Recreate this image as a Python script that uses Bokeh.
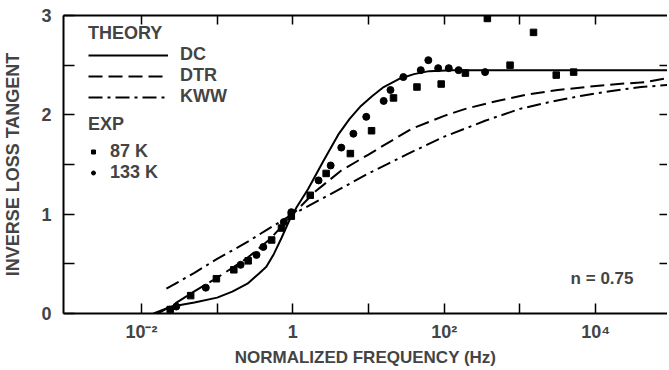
import numpy as np
from bokeh.plotting import figure
from bokeh.models import (LogAxis, LinearAxis, FixedTicker, Legend, LegendItem,
                          Label, Range1d)
from bokeh.embed import file_html
from bokeh.resources import INLINE

FONT = "Liberation Sans"

# ---- data (frequencies given as log10 exponents) ----
dc_logf = [-1.84, -1.6, -1.3, -1.0, -0.8, -0.6, -0.45, -0.35, -0.25, -0.15, -0.05,
           0.05, 0.2, 0.4, 0.6, 0.75, 0.9, 1.05, 1.2, 1.4, 1.6, 1.8, 2.1, 3.0, 4.0, 4.95]
dc_val = [0.0, 0.07, 0.11, 0.16, 0.22, 0.30, 0.40, 0.47, 0.60, 0.76, 0.93,
          1.07, 1.25, 1.53, 1.80, 1.96, 2.09, 2.19, 2.28, 2.36, 2.41, 2.44, 2.45, 2.45, 2.45, 2.45]

dtr_logf = [-1.78, -1.6, -1.35, -1.0, -0.6, -0.3, 0.0, 0.3, 0.64, 1.0, 1.13, 1.57,
            2.0, 2.28, 2.7, 3.07, 3.5, 3.87, 4.3, 4.66, 4.95]
dtr_val = [0.0, 0.08, 0.20, 0.36, 0.56, 0.75, 1.0, 1.23, 1.44, 1.60, 1.66, 1.86,
           1.99, 2.06, 2.14, 2.20, 2.25, 2.28, 2.31, 2.33, 2.37]

kww_logf = [-1.67, -1.3, -1.0, -0.6, -0.35, 0.0, 0.47, 1.0, 1.5, 2.0, 2.54, 3.0,
            3.34, 3.8, 4.21, 4.6, 4.95]
kww_val = [0.25, 0.41, 0.55, 0.72, 0.84, 1.0, 1.19, 1.41, 1.60, 1.78, 1.94, 2.06,
           2.12, 2.19, 2.24, 2.28, 2.30]

k87_logf = [-1.62, -1.35, -1.01, -0.78, -0.59, -0.28, -0.15, -0.02, 0.23, 0.44, 0.76,
            1.04, 1.33, 1.64, 1.96, 2.28, 2.57, 2.87, 3.18, 3.48, 3.71]
k87_val = [0.04, 0.18, 0.35, 0.44, 0.53, 0.74, 0.86, 0.98, 1.19, 1.41, 1.61,
           1.84, 2.17, 2.28, 2.31, 2.42, 2.97, 2.50, 2.83, 2.40, 2.43]

k133_logf = [-1.54, -1.15, -0.69, -0.48, -0.39, -0.12, -0.02, 0.34, 0.50, 0.64, 0.80,
             0.97, 1.20, 1.29, 1.46, 1.69, 1.79, 1.92, 2.06, 2.19, 2.54]
k133_val = [0.07, 0.26, 0.49, 0.59, 0.67, 0.92, 1.02, 1.34, 1.49, 1.67, 1.81,
            1.98, 2.14, 2.25, 2.38, 2.45, 2.55, 2.47, 2.47, 2.45, 2.43]

x_major = [1e-2, 1.0, 1e2, 1e4]
x_minor = [1e-1, 1e1, 1e3]
x_labels = ["10⁻²", "1", "10²", "10⁴"]
y_major = [0, 1, 2, 3]
y_minor = [0.5, 1.5, 2.5]


def f(logs):
    return [10.0 ** v for v in logs]


p = figure(frame_width=604, frame_height=298, x_axis_type="log",
           x_range=Range1d(10 ** -3.03, 10 ** 4.95), y_range=Range1d(0, 3),
           output_backend="svg", toolbar_location=None,
           min_border_left=57, min_border_right=0, min_border_top=15,
           min_border_bottom=40)
p.xgrid.visible = False
p.ygrid.visible = False
p.outline_line_color = None
p.background_fill_color = "white"

# curves
r_dc = p.line(f(dc_logf), dc_val, line_color="black", line_width=2)
r_dtr = p.line(f(dtr_logf), dtr_val, line_color="black", line_width=2,
               line_dash="14 6")
r_kww = p.line(f(kww_logf), kww_val, line_color="black", line_width=2,
               line_dash="14 5 3 5")
r87 = p.scatter(f(k87_logf), k87_val, marker="square", size=6.5,
                fill_color="black", line_color="black")
r133 = p.scatter(f(k133_logf), k133_val, marker="circle", size=7,
                 fill_color="black", line_color="black")

# bottom axis
xa = p.xaxis[0]
xa.ticker = FixedTicker(ticks=x_major, minor_ticks=x_minor)
xa.major_label_overrides = {k: v for k, v in zip(x_major, x_labels)}
xa.axis_label = "NORMALIZED FREQUENCY (Hz)"
xa.major_tick_in = 10
xa.major_tick_out = 0
xa.minor_tick_in = 10
xa.minor_tick_out = 0
xa.major_tick_line_width = 1.5
xa.minor_tick_line_width = 1.5
xa.axis_line_width = 2
xa.major_label_standoff = 8
xa.axis_label_standoff = 3
xa.major_label_text_font = FONT
xa.major_label_text_font_style = "bold"
xa.major_label_text_font_size = "18px"
xa.axis_label_text_font = FONT
xa.axis_label_text_font_style = "bold"
xa.axis_label_text_font_size = "17px"

# left axis
ya = p.yaxis[0]
ya.ticker = FixedTicker(ticks=y_major, minor_ticks=y_minor)
ya.axis_label = "INVERSE LOSS TANGENT"
ya.major_tick_in = 11
ya.major_tick_out = 0
ya.minor_tick_in = 11
ya.minor_tick_out = 0
ya.major_tick_line_width = 1.5
ya.minor_tick_line_width = 1.5
ya.axis_line_width = 2
ya.major_label_standoff = 12
ya.axis_label_standoff = 15
ya.major_label_text_font = FONT
ya.major_label_text_font_style = "bold"
ya.major_label_text_font_size = "18px"
ya.axis_label_text_font = FONT
ya.axis_label_text_font_style = "bold"
ya.axis_label_text_font_size = "18px"

# top axis (ticks only)
top = LogAxis(ticker=FixedTicker(ticks=x_major + x_minor),
              major_tick_in=9, major_tick_out=0, minor_tick_in=0, minor_tick_out=0,
              major_tick_line_width=1.5, axis_line_width=2,
              major_label_text_font_size="1px", major_label_text_alpha=0,
              major_label_standoff=0)
p.add_layout(top, "above")

# right axis (ticks only)
right = LinearAxis(ticker=FixedTicker(ticks=[0.5, 1, 1.5, 2, 2.5]),
                   major_tick_in=8, major_tick_out=0, minor_tick_in=0, minor_tick_out=0,
                   major_tick_line_width=1.5, axis_line_color=None,
                   major_label_text_font_size="1px", major_label_text_alpha=0,
                   major_label_standoff=0)
p.add_layout(right, "right")

# legends
common = dict(background_fill_alpha=0, border_line_color=None, padding=0, margin=0,
              spacing=0, label_text_font=FONT, label_text_font_style="bold",
              label_text_font_size="18px", title_text_font=FONT,
              title_text_font_style="bold", title_text_font_size="18px")
leg1 = Legend(items=[LegendItem(label="DC", renderers=[r_dc]),
                     LegendItem(label="DTR", renderers=[r_dtr]),
                     LegendItem(label="KWW", renderers=[r_kww])],
              title="THEORY", location=(25, 206), glyph_width=80, glyph_height=20,
              label_height=20, label_standoff=12, title_standoff=0, **common)
leg2 = Legend(items=[LegendItem(label="87 K", renderers=[r87]),
                     LegendItem(label="133 K", renderers=[r133])],
              title="EXP", location=(25, 130), glyph_width=10, glyph_height=17,
              label_height=17, label_standoff=12, title_standoff=6, **common)
p.add_layout(leg1)
p.add_layout(leg2)

p.add_layout(Label(x=10 ** 3.67, y=0.35, text="n = 0.75", text_font=FONT,
                   text_font_style="bold", text_font_size="17px",
                   text_baseline="middle"))

open("out.html", "w").write(file_html(p, INLINE))
